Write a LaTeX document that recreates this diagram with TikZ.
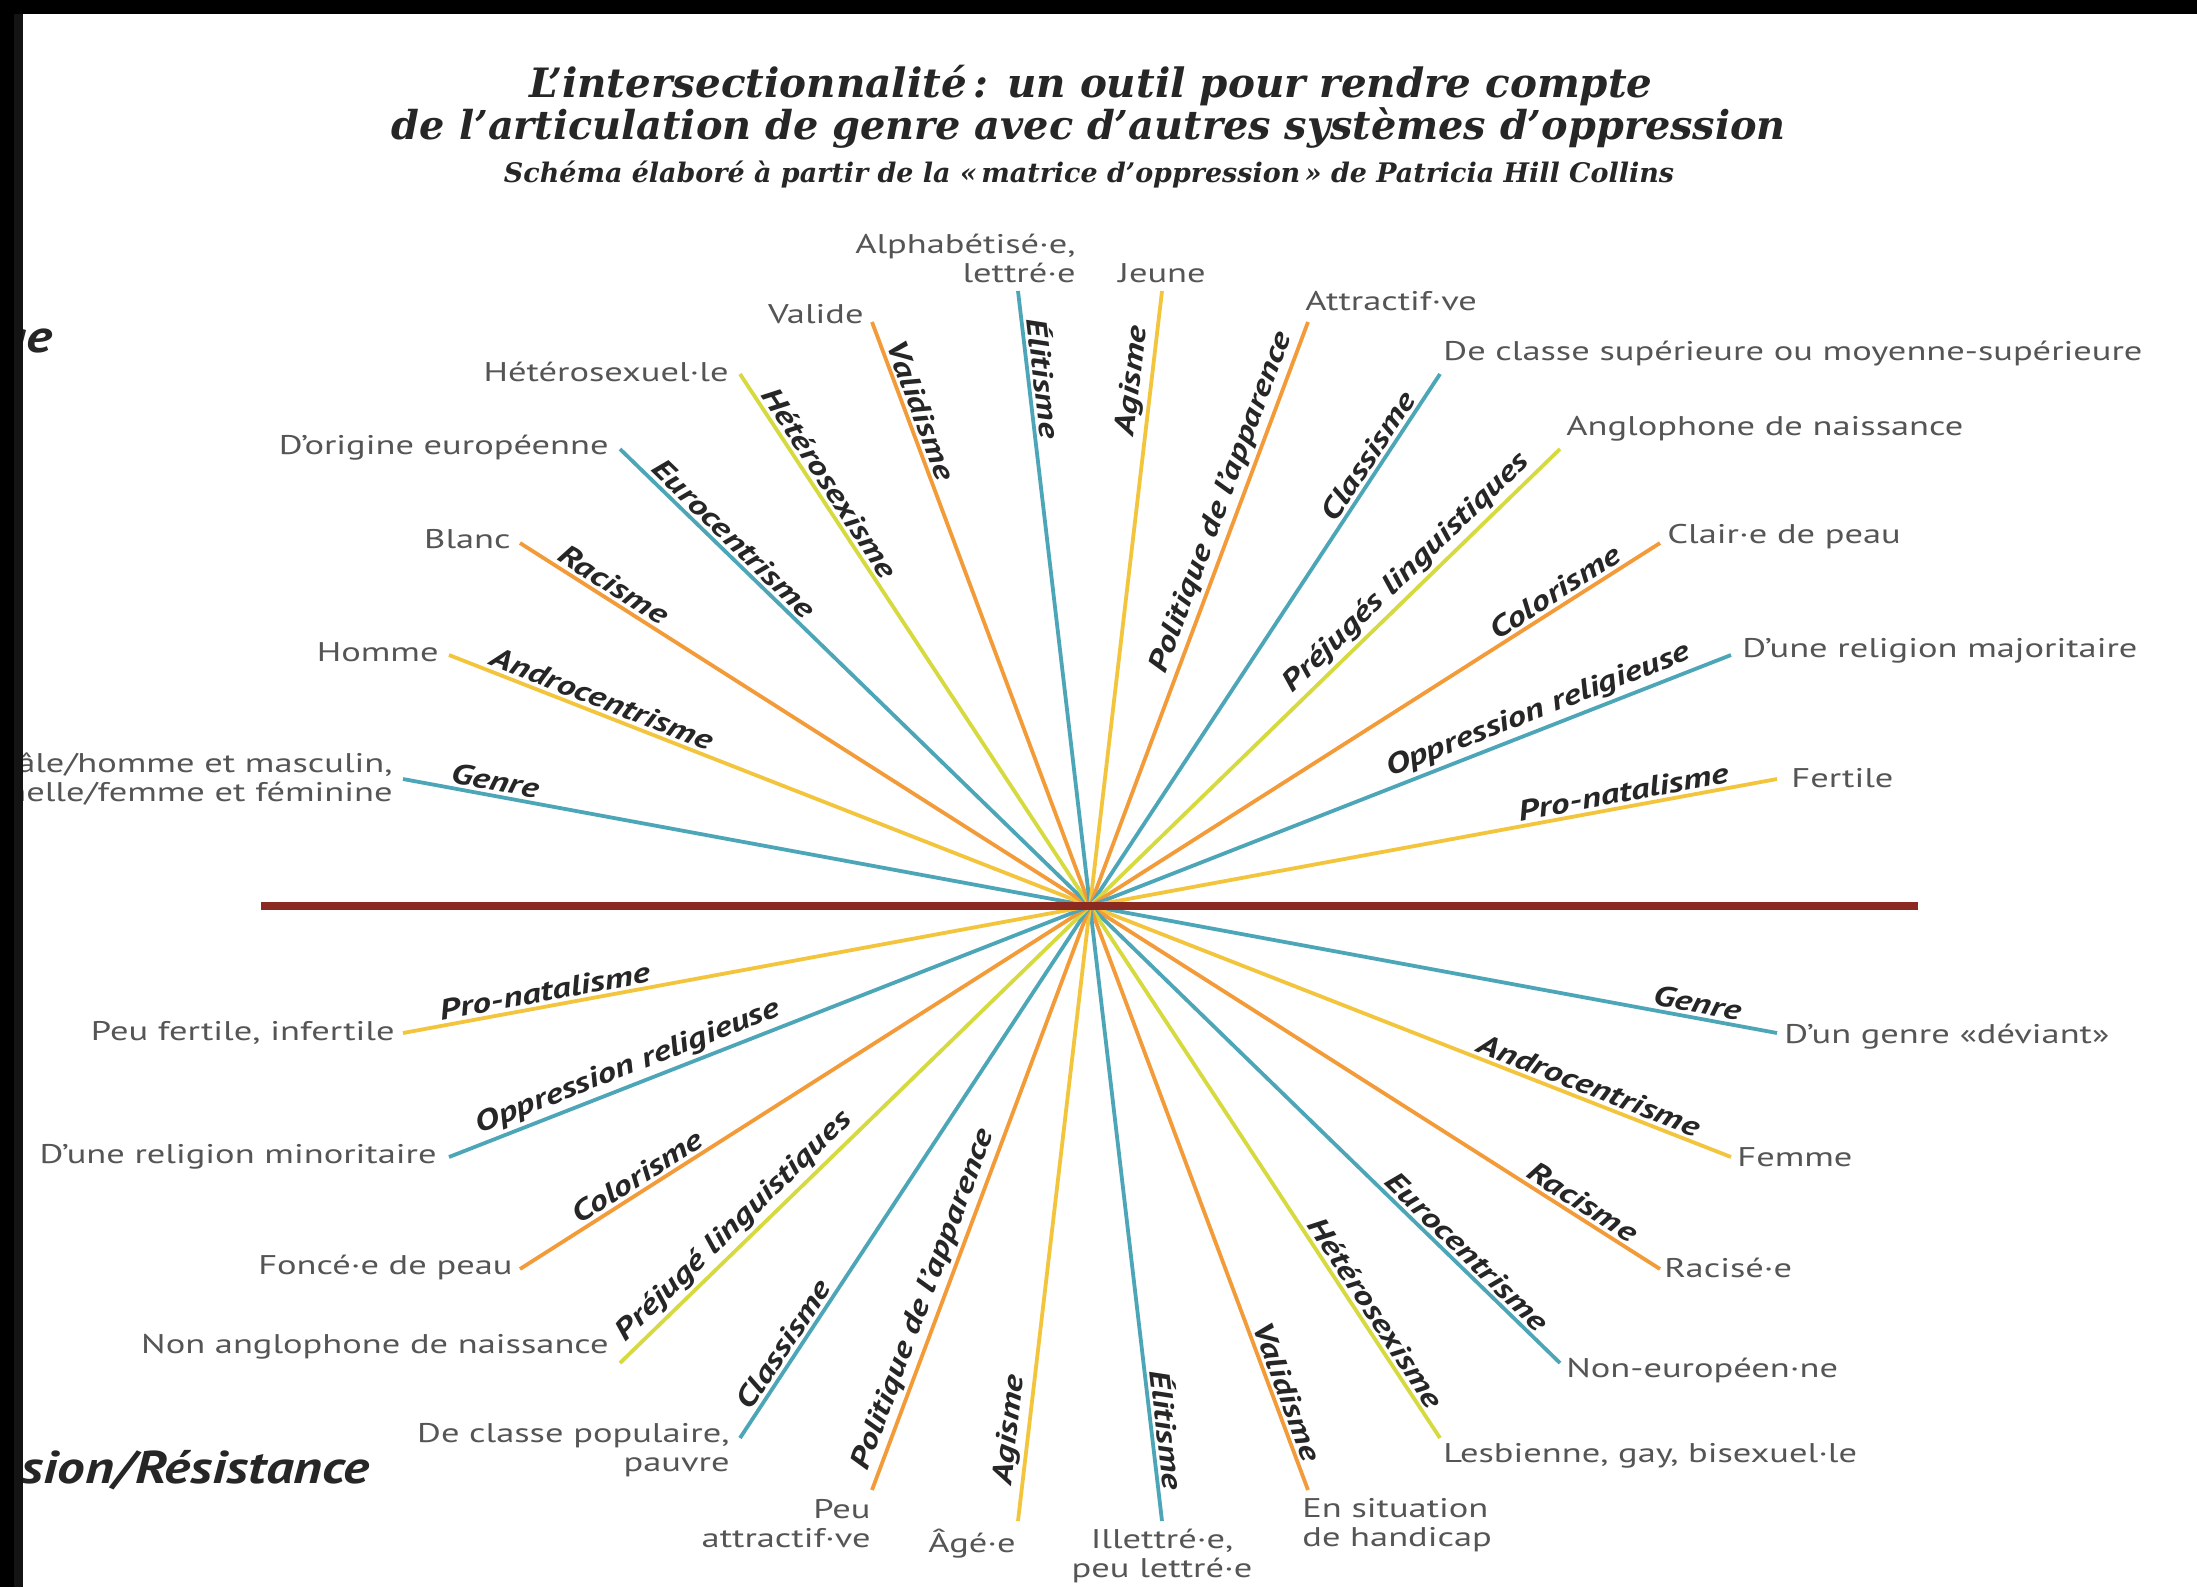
\documentclass[tikz,border=0pt]{standalone}
\usepackage{fontspec}
\usepackage{graphicx}
\setmainfont{PT Sans}
\newfontfamily\lblfont{PT Sans}[FakeStretch=1.35]
\newfontfamily\oppfont{PT Sans}[FakeStretch=1.3]
\newfontfamily\headfont{PT Sans}[FakeStretch=1.2]
\newfontfamily\ttlfont{DejaVu Serif}
\definecolor{rteal}{HTML}{4DA6B8}
\definecolor{rgold}{HTML}{F2C53D}
\definecolor{rorange}{HTML}{F29B38}
\definecolor{rlime}{HTML}{D6DA3E}
\definecolor{rred}{HTML}{8A2A20}
\definecolor{lblgray}{HTML}{555555}
\definecolor{oppink}{HTML}{262626}
\begin{document}
\begin{tikzpicture}[x=0.5pt,y=-0.5pt,
  endlbl/.style={font=\lblfont\fontsize{13.5}{14.5}\selectfont, text=lblgray, inner sep=0pt},
  opplbl/.style={font=\oppfont\bfseries\itshape\fontsize{14.3}{15}\selectfont, text=oppink, sloped, above, inner sep=1.5pt},
  ray/.style={line width=1.9pt},
  headlbl/.style={font=\headfont\bfseries\itshape\fontsize{23}{26}\selectfont, text=oppink, inner sep=0pt},
  ttl/.style={text=black!85, inner sep=0pt}
]
\useasboundingbox (0,0) rectangle (2197,1587);
\fill[white] (0,0) rectangle (2197,1587);

% title
\node[ttl] (t1) at (1091,86) {\resizebox{561.5pt}{!}{\ttlfont\bfseries\itshape L’intersectionnalité\,: un outil pour rendre compte}};
\node[ttl] (t2) at (1089,128) {\resizebox{697pt}{!}{\ttlfont\bfseries\itshape de l’articulation de genre avec d’autres systèmes d’oppression}};
\node[ttl] (t3) at (1089,175) {\resizebox{585pt}{!}{\ttlfont\bfseries\itshape Schéma élaboré à partir de la «\,matrice d’oppression\,» de Patricia Hill Collins}};

\coordinate (C) at (1090,906);
% upper ends
\coordinate (uA) at (403,779);
\coordinate (uB) at (449,655);
\coordinate (uC) at (520,543);
\coordinate (uD) at (620,449);
\coordinate (uE) at (740,374);
\coordinate (uF) at (872,322);
\coordinate (uG) at (1018,291);
\coordinate (uH) at (1162,291);
\coordinate (uI) at (1308,322);
\coordinate (uJ) at (1440,374);
\coordinate (uK) at (1560,449);
\coordinate (uL) at (1660,543);
\coordinate (uM) at (1731,655);
\coordinate (uN) at (1777,779);
% lower ends
\coordinate (lA) at (1777,1033);
\coordinate (lB) at (1731,1157);
\coordinate (lC) at (1660,1269);
\coordinate (lD) at (1560,1363);
\coordinate (lE) at (1440,1438);
\coordinate (lF) at (1308,1490);
\coordinate (lG) at (1162,1521);
\coordinate (lH) at (1018,1521);
\coordinate (lI) at (872,1490);
\coordinate (lJ) at (740,1438);
\coordinate (lK) at (620,1363);
\coordinate (lL) at (520,1269);
\coordinate (lM) at (449,1157);
\coordinate (lN) at (403,1033);

% rays
\draw[ray,rteal] (lA) -- (uA) node[opplbl,pos=0.935]{Genre} node[opplbl,pos=0.06]{Genre};
\draw[ray,rgold] (lB) -- (uB) node[opplbl,pos=0.885]{Androcentrisme} node[opplbl,pos=0.115]{Androcentrisme};
\draw[ray,rorange] (lC) -- (uC) node[opplbl,pos=0.925]{Racisme} node[opplbl,pos=0.075]{Racisme};
\draw[ray,rteal] (lD) -- (uD) node[opplbl,pos=0.89]{Eurocentrisme} node[opplbl,pos=0.11]{Eurocentrisme};
\draw[ray,rlime] (lE) -- (uE) node[opplbl,pos=0.89]{Hétérosexisme} node[opplbl,pos=0.11]{Hétérosexisme};
\draw[ray,rorange] (lF) -- (uF) node[opplbl,pos=0.92]{Validisme} node[opplbl,pos=0.08]{Validisme};
\draw[ray,rteal] (lG) -- (uG) node[opplbl,pos=0.9275]{Élitisme} node[opplbl,pos=0.0725]{Élitisme};
\draw[ray,rgold] (lH) -- (uH) node[opplbl,pos=0.925]{Agisme} node[opplbl,pos=0.0725]{Agisme};
\draw[ray,rorange] (lI) -- (uI) node[opplbl,pos=0.84]{Politique de l’apparence} node[opplbl,pos=0.1575]{Politique de l’apparence};
\draw[ray,rteal] (lJ) -- (uJ) node[opplbl,pos=0.915]{Classisme} node[opplbl,pos=0.08]{Classisme};
\draw[ray,rlime] (lK) -- (uK) node[opplbl,pos=0.85]{Préjugés linguistiques} node[opplbl,pos=0.135]{Préjugé linguistiques};
\draw[ray,rorange] (lL) -- (uL) node[opplbl,pos=0.915]{Colorisme} node[opplbl,pos=0.11]{Colorisme};
\draw[ray,rteal] (lM) -- (uM) node[opplbl,pos=0.855]{Oppression religieuse} node[opplbl,pos=0.145]{Oppression religieuse};
\draw[ray,rgold] (lN) -- (uN) node[opplbl,pos=0.89]{Pro-natalisme} node[opplbl,pos=0.105]{Pro-natalisme};

% horizontal axis
\coordinate (hl) at (261,906);
\coordinate (hr) at (1918,906);
\draw[rred,line width=3.8pt] (hl) -- (hr);

% end labels upper
\node[endlbl,anchor=east,align=right] (eA) at (393,779) {Mâle/homme et masculin,\\Femelle/femme et féminine};
\node[endlbl,anchor=east] (eB) at (439,652) {Homme};
\node[endlbl,anchor=east] (eC) at (511,539) {Blanc};
\node[endlbl,anchor=east] (eD) at (609,448) {D’origine européenne};
\node[endlbl,anchor=east] (eE) at (729,372) {Hétérosexuel·le};
\node[endlbl,anchor=east] (eF) at (864,314) {Valide};
\node[endlbl,anchor=south east,align=right] (eG) at (1076,283) {Alphabétisé·e,\\lettré·e};
\node[endlbl,anchor=south] (eH) at (1162,283) {Jeune};
\node[endlbl,anchor=south west] (eI) at (1305,311) {Attractif·ve};
\node[endlbl,anchor=south west] (eJ) at (1443,366) {De classe supérieure ou moyenne-supérieure};
\node[endlbl,anchor=south west] (eK) at (1566,442) {Anglophone de naissance};
\node[endlbl,anchor=west] (eL) at (1667,537) {Clair·e de peau};
\node[endlbl,anchor=west] (eM) at (1742,651) {D’une religion majoritaire};
\node[endlbl,anchor=west] (eN) at (1791,778) {Fertile};
% end labels lower
\node[endlbl,anchor=west] (fA) at (1784,1037) {D’un genre «déviant»};
\node[endlbl,anchor=west] (fB) at (1737,1157) {Femme};
\node[endlbl,anchor=west] (fC) at (1664,1268) {Racisé·e};
\node[endlbl,anchor=west] (fD) at (1566,1370) {Non-européen·ne};
\node[endlbl,anchor=west] (fE) at (1443,1456) {Lesbienne, gay, bisexuel·le};
\node[endlbl,anchor=north west,align=left] (fF) at (1302,1498) {En situation\\de handicap};
\node[endlbl,anchor=north,align=center] (fG) at (1162,1529) {Illettré·e,\\peu lettré·e};
\node[endlbl,anchor=north east] (fH) at (1016,1529) {Âgé·e};
\node[endlbl,anchor=north east,align=right] (fI) at (871,1499) {Peu\\attractif·ve};
\node[endlbl,anchor=north east,align=right] (fJ) at (730,1423) {De classe populaire,\\pauvre};
\node[endlbl,anchor=east] (fK) at (609,1347) {Non anglophone de naissance};
\node[endlbl,anchor=east] (fL) at (513,1267) {Foncé·e de peau};
\node[endlbl,anchor=east] (fM) at (437,1157) {D’une religion minoritaire};
\node[endlbl,anchor=east] (fN) at (395,1033) {Peu fertile, infertile};

% side headings
\node[headlbl,anchor=base east] (hp) at (53,352) {Privilège};
\node[headlbl,anchor=base east] (ho) at (370,1483) {Oppression/Résistance};

% frame bands
\fill[black!92] (14,0) rectangle (23,1587);
\fill[black] (0,0) rectangle (14,1587);
\fill[black] (0,0) rectangle (2197,14);
\end{tikzpicture}
\end{document}
